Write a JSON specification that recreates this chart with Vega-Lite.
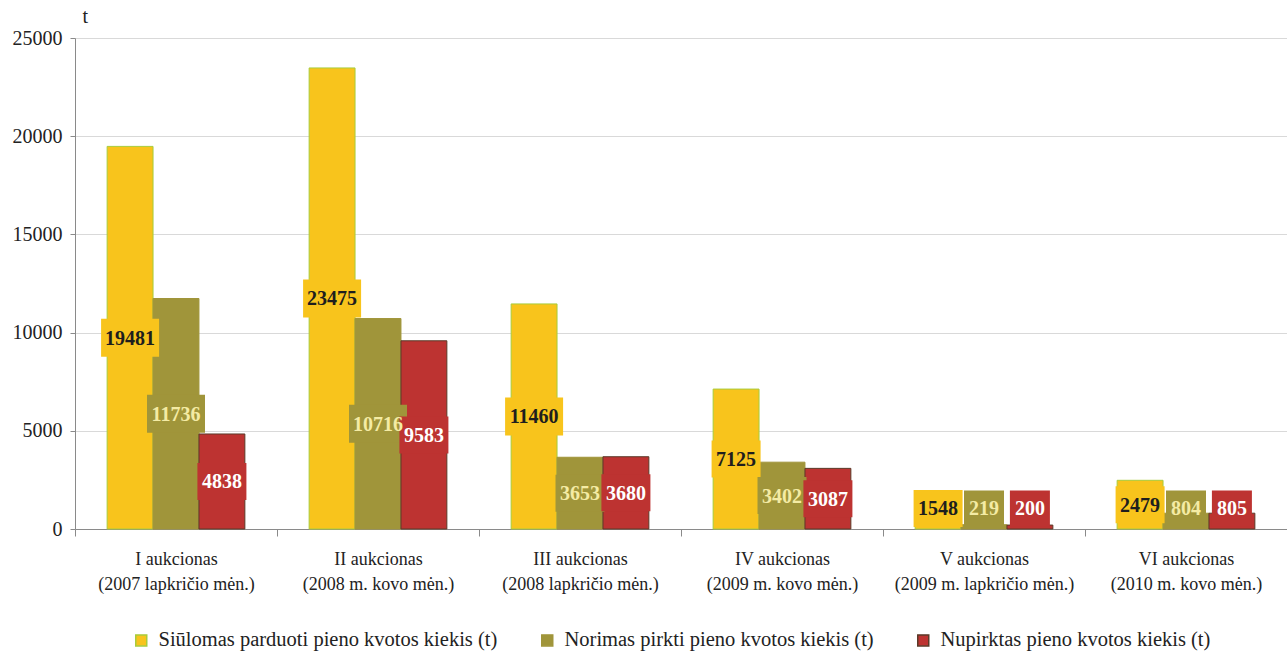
{
  "$schema": "https://vega.github.io/schema/vega-lite/v6.json",
  "width": 1212,
  "height": 491,
  "autosize": {"type": "none"},
  "padding": {"left": 75, "top": 38, "right": 0, "bottom": 125},
  "background": "white",
  "config": {
    "view": {"stroke": null},
    "font": "Liberation Serif",
    "axisY": {
      "title": "t",
      "titleAngle": 0,
      "titleX": 7,
      "titleY": -22,
      "titleAlign": "left",
      "titleBaseline": "middle",
      "titleFont": "Liberation Serif",
      "titleFontSize": 20,
      "titleFontWeight": "normal",
      "titleColor": "#222222",
      "labelFont": "Liberation Serif",
      "labelFontSize": 20,
      "labelColor": "#222222",
      "labelPadding": 8,
      "tickSize": 5,
      "tickColor": "#8a8a8a",
      "domainColor": "#8a8a8a",
      "grid": true,
      "gridColor": "#d9d9d9"
    }
  },
  "data": {
    "values": [
      {"auction": "I aukcionas|(2007 lapkričio mėn.)", "series": "Siūlomas parduoti pieno kvotos kiekis (t)", "value": 19481},
      {"auction": "I aukcionas|(2007 lapkričio mėn.)", "series": "Norimas pirkti pieno kvotos kiekis (t)", "value": 11736},
      {"auction": "I aukcionas|(2007 lapkričio mėn.)", "series": "Nupirktas pieno kvotos kiekis (t)", "value": 4838},
      {"auction": "II aukcionas|(2008 m. kovo mėn.)", "series": "Siūlomas parduoti pieno kvotos kiekis (t)", "value": 23475},
      {"auction": "II aukcionas|(2008 m. kovo mėn.)", "series": "Norimas pirkti pieno kvotos kiekis (t)", "value": 10716},
      {"auction": "II aukcionas|(2008 m. kovo mėn.)", "series": "Nupirktas pieno kvotos kiekis (t)", "value": 9583},
      {"auction": "III aukcionas|(2008 lapkričio mėn.)", "series": "Siūlomas parduoti pieno kvotos kiekis (t)", "value": 11460},
      {"auction": "III aukcionas|(2008 lapkričio mėn.)", "series": "Norimas pirkti pieno kvotos kiekis (t)", "value": 3653},
      {"auction": "III aukcionas|(2008 lapkričio mėn.)", "series": "Nupirktas pieno kvotos kiekis (t)", "value": 3680},
      {"auction": "IV aukcionas|(2009 m. kovo mėn.)", "series": "Siūlomas parduoti pieno kvotos kiekis (t)", "value": 7125},
      {"auction": "IV aukcionas|(2009 m. kovo mėn.)", "series": "Norimas pirkti pieno kvotos kiekis (t)", "value": 3402},
      {"auction": "IV aukcionas|(2009 m. kovo mėn.)", "series": "Nupirktas pieno kvotos kiekis (t)", "value": 3087},
      {"auction": "V aukcionas|(2009 m. lapkričio mėn.)", "series": "Siūlomas parduoti pieno kvotos kiekis (t)", "value": 1548},
      {"auction": "V aukcionas|(2009 m. lapkričio mėn.)", "series": "Norimas pirkti pieno kvotos kiekis (t)", "value": 219},
      {"auction": "V aukcionas|(2009 m. lapkričio mėn.)", "series": "Nupirktas pieno kvotos kiekis (t)", "value": 200},
      {"auction": "VI aukcionas|(2010 m. kovo mėn.)", "series": "Siūlomas parduoti pieno kvotos kiekis (t)", "value": 2479},
      {"auction": "VI aukcionas|(2010 m. kovo mėn.)", "series": "Norimas pirkti pieno kvotos kiekis (t)", "value": 804},
      {"auction": "VI aukcionas|(2010 m. kovo mėn.)", "series": "Nupirktas pieno kvotos kiekis (t)", "value": 805}
    ]
  },
  "encoding": {
    "x": {
      "field": "auction",
      "type": "nominal",
      "sort": null,
      "scale": {"paddingInner": 0, "paddingOuter": 0},
      "axis": {
        "title": null,
        "labelAngle": 0,
        "labelExpr": "split(datum.label, '|')",
        "labelFont": "Liberation Serif",
        "labelFontSize": 18,
        "labelLineHeight": 25,
        "labelColor": "#222222",
        "labelPadding": 14,
        "labelLimit": 0,
        "tickBand": "extent",
        "tickSize": 7,
        "tickColor": "#8a8a8a",
        "domainColor": "#8a8a8a",
        "grid": false
      }
    },
    "xOffset": {
      "field": "series",
      "type": "nominal",
      "scale": {"domain": ["Siūlomas parduoti pieno kvotos kiekis (t)", "Norimas pirkti pieno kvotos kiekis (t)", "Nupirktas pieno kvotos kiekis (t)"], "paddingInner": 0, "paddingOuter": 0.7}
    }
  },
  "layer": [
    {
      "mark": {"type": "bar", "strokeWidth": 1},
      "encoding": {
        "y": {
          "field": "value",
          "type": "quantitative",
          "scale": {"domain": [0, 25000], "nice": false},
          "axis": {"title": "t", "values": [0, 5000, 10000, 15000, 20000, 25000], "format": "d"}
        },
        "color": {
          "field": "series",
          "type": "nominal",
          "scale": {
            "domain": ["Siūlomas parduoti pieno kvotos kiekis (t)", "Norimas pirkti pieno kvotos kiekis (t)", "Nupirktas pieno kvotos kiekis (t)"],
            "range": ["#F8C41C", "#A0953A", "#BD3331"]
          },
          "legend": {
            "title": null,
            "orient": "none",
            "legendX": 56,
            "legendY": 592,
            "direction": "horizontal",
            "columns": 3,
            "columnPadding": 39,
            "symbolType": "square",
            "symbolSize": 121,
            "symbolStrokeWidth": 1.5,
            "labelFont": "Liberation Serif",
            "labelFontSize": 20.5,
            "labelColor": "#222222",
            "labelLimit": 0,
            "labelOffset": 7
          }
        },
        "stroke": {
          "field": "series",
          "type": "nominal",
          "scale": {
            "domain": ["Siūlomas parduoti pieno kvotos kiekis (t)", "Norimas pirkti pieno kvotos kiekis (t)", "Nupirktas pieno kvotos kiekis (t)"],
            "range": ["#A8CC3C", "#A0953A", "#5B3A29"]
          },
          "legend": {
            "title": null,
            "orient": "none",
            "legendX": 56,
            "legendY": 592,
            "direction": "horizontal",
            "columns": 3,
            "columnPadding": 39,
            "symbolType": "square",
            "symbolSize": 121,
            "symbolStrokeWidth": 1.5,
            "labelFont": "Liberation Serif",
            "labelFontSize": 20.5,
            "labelColor": "#222222",
            "labelLimit": 0,
            "labelOffset": 7
          }
        }
      }
    },
    {
      "transform": [
        {"calculate": "max(datum.value / 2, 1050)", "as": "labelPos"},
        {"calculate": "toString(length(format(datum.value, 'd')))", "as": "digits"}
      ],
      "mark": {"type": "point", "filled": true, "opacity": 1, "size": 400, "strokeWidth": 0},
      "encoding": {
        "y": {"field": "labelPos", "type": "quantitative", "axis": {"title": "t", "values": [0, 5000, 10000, 15000, 20000, 25000], "format": "d"}},
        "color": {"field": "series", "type": "nominal", "legend": null},
        "shape": {
          "field": "digits",
          "type": "nominal",
          "scale": {
            "domain": ["3", "4", "5"],
            "range": ["M-2,-1.8H2V1.8H-2Z", "M-2.45,-1.85H2.45V1.85H-2.45Z", "M-2.9,-1.9H2.9V1.9H-2.9Z"]
          },
          "legend": null
        }
      }
    },
    {
      "transform": [
        {"calculate": "max(datum.value / 2, 1050)", "as": "labelPos"}
      ],
      "mark": {"type": "text", "font": "Liberation Serif", "fontWeight": "bold", "fontSize": 20, "baseline": "middle", "align": "center", "dy": 1},
      "encoding": {
        "y": {"field": "labelPos", "type": "quantitative", "axis": {"title": "t", "values": [0, 5000, 10000, 15000, 20000, 25000], "format": "d"}},
        "text": {"field": "value", "type": "quantitative", "format": "d"},
        "color": {
          "condition": [
            {"test": "datum.series === 'Siūlomas parduoti pieno kvotos kiekis (t)'", "value": "#1E1E1E"},
            {"test": "datum.series === 'Norimas pirkti pieno kvotos kiekis (t)'", "value": "#F4EBA4"}
          ],
          "value": "#FFFFFF"
        }
      }
    }
  ]
}
